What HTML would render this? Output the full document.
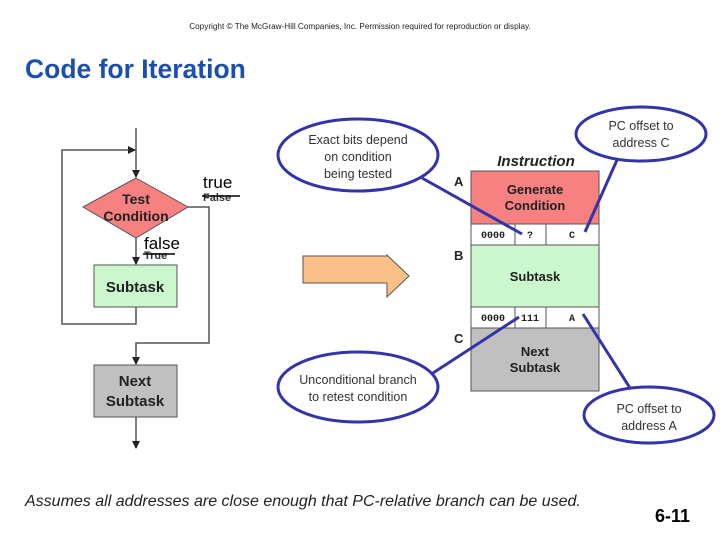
<!DOCTYPE html>
<html><head><style>
body{margin:0;background:#fff;}
svg{display:block;font-family:"Liberation Sans",Arial,sans-serif;}
</style></head><body>
<svg width="720" height="540" viewBox="0 0 720 540">
<defs><marker id="ar" markerWidth="8" markerHeight="8" refX="7" refY="4" orient="auto" markerUnits="userSpaceOnUse"><path d="M0,0L8,4L0,8z" fill="#222"/></marker></defs>
<text x="360" y="29" font-size="8.2" text-anchor="middle" fill="#222">Copyright © The McGraw-Hill Companies, Inc.  Permission required for reproduction or display.</text>
<text x="25" y="78" font-size="26.5" font-weight="bold" fill="#1a4fb0">Code for Iteration</text>
<g stroke="#555" stroke-width="1.5" fill="none">
<line x1="136" y1="128" x2="136" y2="177" marker-end="url(#ar)"/>
<polyline points="136,307 136,324 62,324 62,150 135,150" marker-end="url(#ar)"/>
<polyline points="188,207 209,207 209,343 136,343 136,364" marker-end="url(#ar)"/>
<line x1="136" y1="238" x2="136" y2="264" marker-end="url(#ar)"/>
<line x1="136" y1="417" x2="136" y2="448" marker-end="url(#ar)"/>
</g>
<polygon points="136,178 188,207 136,238 83,207" fill="#f78080" stroke="#555"/>
<text x="136" y="204" font-size="14" font-weight="bold" text-anchor="middle" fill="#222">Test</text>
<text x="136" y="221" font-size="14" font-weight="bold" text-anchor="middle" fill="#222">Condition</text>
<rect x="94" y="265" width="83" height="42" fill="#ccf7cc" stroke="#555"/>
<text x="135" y="292" font-size="15" font-weight="bold" text-anchor="middle" fill="#222">Subtask</text>
<rect x="94" y="365" width="83" height="52" fill="#c0c0c0" stroke="#555"/>
<text x="135" y="386" font-size="15" font-weight="bold" text-anchor="middle" fill="#222">Next</text>
<text x="135" y="406" font-size="15" font-weight="bold" text-anchor="middle" fill="#222">Subtask</text>
<text x="203" y="188" font-size="17" fill="#000">true</text>
<text x="203" y="201" font-size="11" font-weight="bold" fill="#333">False</text>
<line x1="202" y1="196" x2="240" y2="196" stroke="#000" stroke-width="1.5"/>
<text x="144" y="249" font-size="17" fill="#000">false</text>
<text x="144" y="259" font-size="11" font-weight="bold" fill="#333">True</text>
<line x1="143" y1="254" x2="175" y2="254" stroke="#000" stroke-width="1.5"/>
<polygon points="303,256 387,256 387,255 409,276 387,297 387,283 303,283" fill="#fbbf88" stroke="#555"/>
<text x="536" y="166" font-size="15" font-style="italic" font-weight="bold" text-anchor="middle" fill="#222">Instruction</text>
<rect x="471" y="171" width="128" height="53" fill="#f78080" stroke="#555"/>
<text x="535" y="194" font-size="13" font-weight="bold" text-anchor="middle" fill="#222">Generate</text>
<text x="535" y="210" font-size="13" font-weight="bold" text-anchor="middle" fill="#222">Condition</text>
<rect x="471" y="224" width="128" height="21" fill="#fff" stroke="#555"/>
<line x1="515" y1="224" x2="515" y2="245" stroke="#555"/><line x1="546" y1="224" x2="546" y2="245" stroke="#555"/>
<rect x="471" y="245" width="128" height="62" fill="#ccf7cc" stroke="#555"/>
<text x="535" y="281" font-size="13" font-weight="bold" text-anchor="middle" fill="#222">Subtask</text>
<rect x="471" y="307" width="128" height="21" fill="#fff" stroke="#555"/>
<line x1="515" y1="307" x2="515" y2="328" stroke="#555"/><line x1="546" y1="307" x2="546" y2="328" stroke="#555"/>
<rect x="471" y="328" width="128" height="63" fill="#c0c0c0" stroke="#555"/>
<text x="535" y="356" font-size="13" font-weight="bold" text-anchor="middle" fill="#222">Next</text>
<text x="535" y="372" font-size="13" font-weight="bold" text-anchor="middle" fill="#222">Subtask</text>
<g font-family="Liberation Mono,monospace" font-size="10" font-weight="bold" fill="#222" text-anchor="middle">
<text x="493" y="238">0000</text><text x="530" y="238">?</text><text x="572" y="238">C</text>
<text x="493" y="321">0000</text><text x="530" y="321">111</text><text x="572" y="321">A</text>
</g>
<g font-size="13" font-weight="bold" fill="#222"><text x="454" y="186">A</text><text x="454" y="260">B</text><text x="454" y="343">C</text></g>
<g stroke="#3333aa" stroke-width="3" fill="#fff">
<line x1="422" y1="178" x2="522" y2="234"/>
<line x1="617" y1="160" x2="585" y2="232"/>
<line x1="433" y1="373" x2="519" y2="317"/>
<line x1="583" y1="314" x2="630" y2="388"/>
<ellipse cx="358" cy="155" rx="80" ry="36"/>
<ellipse cx="641" cy="134" rx="65" ry="27"/>
<ellipse cx="358" cy="387" rx="80" ry="35"/>
<ellipse cx="649" cy="415" rx="65" ry="28"/>
</g>
<g font-size="12.5" fill="#333" text-anchor="middle">
<text x="358" y="144">Exact bits depend</text><text x="358" y="161">on condition</text><text x="358" y="178">being tested</text>
<text x="641" y="130">PC offset to</text><text x="641" y="147">address C</text>
<text x="358" y="384">Unconditional branch</text><text x="358" y="401">to retest condition</text>
<text x="649" y="413">PC offset to</text><text x="649" y="430">address A</text>
</g>
<text x="25" y="506" font-size="16" font-style="italic" fill="#222">Assumes all addresses are close enough that PC-relative branch can be used.</text>
<text x="655" y="522" font-size="18" font-weight="bold" fill="#000">6-11</text>
</svg>
</body></html>
